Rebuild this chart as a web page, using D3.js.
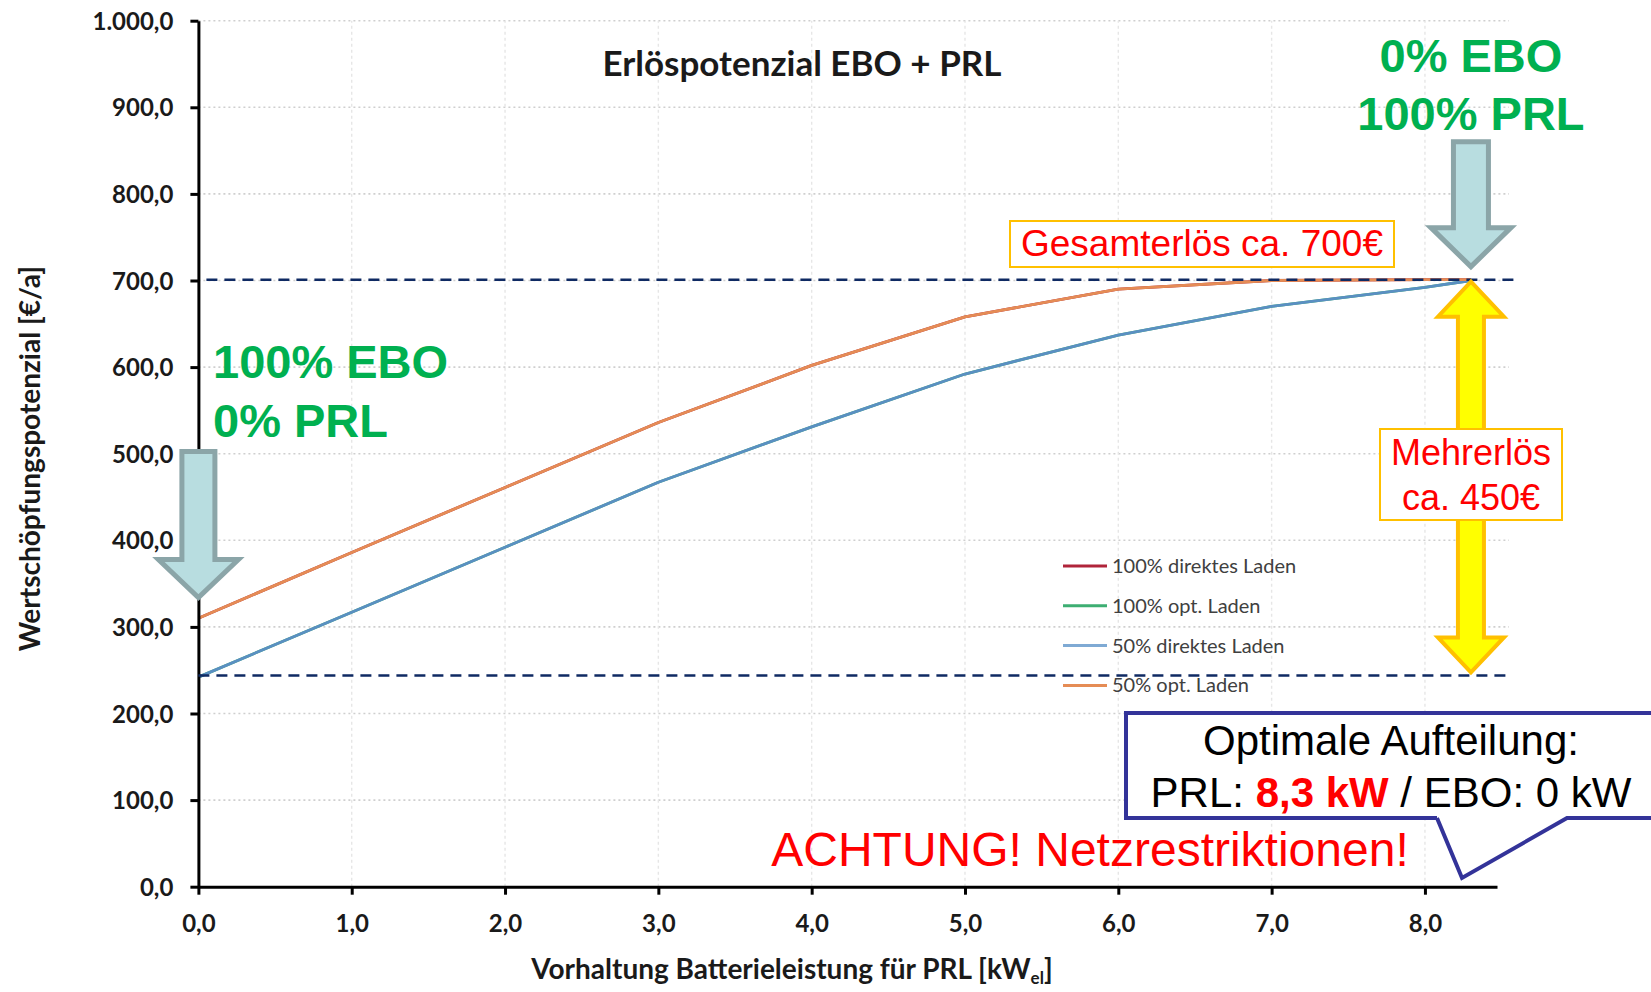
<!DOCTYPE html>
<html>
<head>
<meta charset="utf-8">
<script src="https://cdn.jsdelivr.net/npm/d3@7/dist/d3.min.js"></script>
<style>
  html, body { margin: 0; padding: 0; background: #ffffff; }
  svg { display: block; }
</style>
</head>
<body>
<svg id="chart" width="1651" height="992"></svg>
<script>
// ---- data ----
const prlPower = [0, 1, 2, 3, 4, 5, 6, 7, 8, 8.3];              // kW_el reserved for PRL
const direkt100 = [310, 386, 461, 536, 602, 658, 690, 700, 701, 701];
const opt100    = [242, 317, 392, 467, 531, 592, 637, 670, 692, 700];
const direkt50  = [242, 317, 392, 467, 531, 592, 637, 670, 692, 700];
const opt50     = [310, 386, 461, 536, 602, 658, 690, 700, 701, 701];
const seriesNames = ["100% direktes Laden", "100% opt. Laden", "50% direktes Laden", "50% opt. Laden"];
const seriesColors = ["#B0243A", "#3DAE72", "#5A8FC2", "#E58C55"];
const yTicks = [0, 100, 200, 300, 400, 500, 600, 700, 800, 900, 1000];
const xTicks = [0, 1, 2, 3, 4, 5, 6, 7, 8];
const totalRevenue = 701;   // Gesamterlös level
const baseRevenue = 244;    // level at 0 kW PRL
const optimumKW = 8.3;

const svg = d3.select("#chart");
svg.append("rect").attr("width", 1651).attr("height", 992).attr("fill", "#fff");

const x = d3.scaleLinear().domain([0, 8.47]).range([198.4, 1497]);
const y = d3.scaleLinear().domain([0, 1000]).range([886.7, 20.7]);

const de = d3.formatLocale({ decimal: ",", thousands: ".", grouping: [3], currency: ["", "€"] });
const fmt = de.format(",.1f");
const uiFont = "Lato, 'Open Sans', sans-serif";
const arial = "'Liberation Sans', Arial, sans-serif";

// ---- grid ----
const grid = svg.append("g");
grid.selectAll("line.h").data(yTicks.filter(d => d > 0)).join("line")
  .attr("x1", x(0)).attr("x2", x(8.47) + 12)
  .attr("y1", d => y(d)).attr("y2", d => y(d))
  .attr("stroke", "#cfcfcf").attr("stroke-width", 1.6).attr("stroke-dasharray", "2,3");
grid.selectAll("line.v").data(xTicks.filter(d => d > 0)).join("line")
  .attr("x1", d => x(d)).attr("x2", d => x(d))
  .attr("y1", y(0)).attr("y2", y(1000))
  .attr("stroke", "#e6e6e6").attr("stroke-width", 1.4).attr("stroke-dasharray", "3,3");

// ---- title ----
svg.append("text").attr("x", 802).attr("y", 76).attr("text-anchor", "middle")
  .attr("font-family", uiFont).attr("font-weight", "bold")
  .attr("font-size", 35).attr("fill", "#1a1a1a").text("Erlöspotenzial EBO + PRL");

// ---- series ----
const line = d3.line().x((d, i) => x(prlPower[i])).y(d => y(d));
const allSeries = [direkt100, opt100, direkt50, opt50];
svg.append("g").selectAll("path").data(allSeries).join("path")
  .attr("d", d => line(d)).attr("fill", "none")
  .attr("stroke", (d, i) => seriesColors[i]).attr("stroke-width", 2.8)
  .attr("stroke-linejoin", "round");

// ---- axes ----
const axisFont = g => g.selectAll("text")
  .attr("font-family", uiFont).attr("font-weight", "bold")
  .attr("font-size", 24).attr("fill", "#1a1a1a");

const yAxis = svg.append("g").attr("transform", `translate(${x(0)},0)`)
  .call(d3.axisLeft(y).tickValues(yTicks).tickFormat(fmt).tickSize(8).tickSizeOuter(0).tickPadding(17));
yAxis.call(axisFont);
yAxis.select(".domain").attr("stroke", "#000").attr("stroke-width", 3);
yAxis.selectAll(".tick line").attr("stroke", "#000").attr("stroke-width", 3);
yAxis.selectAll(".tick text").attr("dy", "0.36em");

const xAxis = svg.append("g").attr("transform", `translate(0,${y(0)})`)
  .call(d3.axisBottom(x).tickValues(xTicks).tickFormat(fmt).tickSize(8).tickSizeOuter(0).tickPadding(20));
xAxis.call(axisFont);
xAxis.select(".domain").attr("stroke", "#000").attr("stroke-width", 3);
xAxis.selectAll(".tick line").attr("stroke", "#000").attr("stroke-width", 3);

// axis titles
svg.append("text")
  .attr("transform", `translate(40,${(y(0) + y(1000)) / 2 + 5}) rotate(-90)`)
  .attr("text-anchor", "middle")
  .attr("font-family", uiFont).attr("font-weight", "bold")
  .attr("font-size", 28).attr("fill", "#1a1a1a")
  .text("Wertschöpfungspotenzial [€/a]");

const xt = svg.append("text").attr("x", 792).attr("y", 979).attr("text-anchor", "middle")
  .attr("font-family", uiFont).attr("font-weight", "bold")
  .attr("font-size", 28).attr("fill", "#1a1a1a");
xt.append("tspan").text("Vorhaltung Batterieleistung für PRL [kW");
xt.append("tspan").attr("font-size", 17).attr("dy", 5).text("el");
xt.append("tspan").attr("dy", -5).text("]");

// ---- legend ----
const legend = svg.append("g").attr("transform", "translate(1063,566)");
const li = legend.selectAll("g").data(seriesNames).join("g")
  .attr("transform", (d, i) => `translate(0,${i * 39.8})`);
li.append("line").attr("x1", 0).attr("x2", 44).attr("y1", 0).attr("y2", 0)
  .attr("stroke", (d, i) => i === 2 ? "#7FAAD4" : seriesColors[i]).attr("stroke-width", 3);
li.append("text").attr("x", 49).attr("y", 0).attr("dy", "0.35em")
  .attr("font-family", uiFont).attr("font-size", 20)
  .attr("fill", "#404040").text(d => d);

// ---- reference levels ----
svg.append("line").attr("x1", x(0) + 8).attr("x2", 1516)
  .attr("y1", y(totalRevenue)).attr("y2", y(totalRevenue))
  .attr("stroke", "#0F2A63").attr("stroke-width", 2.5).attr("stroke-dasharray", "11,7");
svg.append("line").attr("x1", x(0)).attr("x2", 1508)
  .attr("y1", y(baseRevenue)).attr("y2", y(baseRevenue))
  .attr("stroke", "#0F2A63").attr("stroke-width", 2.5).attr("stroke-dasharray", "11,7");

// ---- block arrows ----
function downArrow(tx, ty, len, shaftHalf, headHalf, headLen) {
  return d3.line()([
    [tx - shaftHalf, ty - len], [tx + shaftHalf, ty - len], [tx + shaftHalf, ty - headLen],
    [tx + headHalf, ty - headLen], [tx, ty], [tx - headHalf, ty - headLen],
    [tx - shaftHalf, ty - headLen]
  ]) + "Z";
}
function doubleArrow(cx, yTop, yBot, shaftHalf, headHalf, headLen) {
  return d3.line()([
    [cx, yTop], [cx + headHalf, yTop + headLen], [cx + shaftHalf, yTop + headLen],
    [cx + shaftHalf, yBot - headLen], [cx + headHalf, yBot - headLen], [cx, yBot],
    [cx - headHalf, yBot - headLen], [cx - shaftHalf, yBot - headLen],
    [cx - shaftHalf, yTop + headLen], [cx - headHalf, yTop + headLen]
  ]) + "Z";
}

svg.append("path").attr("d", downArrow(x(0), y(334), 146, 16.5, 40, 38))
  .attr("fill", "#B8DDE0").attr("stroke", "#8BA5A8").attr("stroke-width", 5)
  .attr("stroke-linejoin", "miter");
svg.append("path").attr("d", downArrow(x(optimumKW), y(716), 125, 17.5, 40, 39))
  .attr("fill", "#B8DDE0").attr("stroke", "#8BA5A8").attr("stroke-width", 5)
  .attr("stroke-linejoin", "miter");
svg.append("path").attr("d", doubleArrow(x(optimumKW), y(totalRevenue) + 2, y(baseRevenue) - 3, 13, 33, 35))
  .attr("fill", "#FFFF00").attr("stroke", "#FFC000").attr("stroke-width", 4)
  .attr("stroke-linejoin", "miter");

// ---- annotations ----
svg.append("text").attr("x", 213).attr("y", 378)
  .attr("font-family", arial).attr("font-weight", "bold").attr("font-size", 47)
  .attr("fill", "#00B050").text("100% EBO");
svg.append("text").attr("x", 213).attr("y", 437)
  .attr("font-family", arial).attr("font-weight", "bold").attr("font-size", 47)
  .attr("fill", "#00B050").text("0% PRL");

svg.append("text").attr("x", x(optimumKW)).attr("y", 72).attr("text-anchor", "middle")
  .attr("font-family", arial).attr("font-weight", "bold").attr("font-size", 47)
  .attr("fill", "#00B050").text("0% EBO");
svg.append("text").attr("x", x(optimumKW)).attr("y", 130).attr("text-anchor", "middle")
  .attr("font-family", arial).attr("font-weight", "bold").attr("font-size", 47)
  .attr("fill", "#00B050").text("100% PRL");

// Gesamterlös label
svg.append("rect").attr("x", 1010).attr("y", 221).attr("width", 384).attr("height", 46)
  .attr("fill", "#fff").attr("stroke", "#FFC000").attr("stroke-width", 2);
svg.append("text").attr("x", 1202).attr("y", 256).attr("text-anchor", "middle")
  .attr("font-family", arial).attr("font-size", 37).attr("fill", "#FF0000")
  .text("Gesamterlös ca. 700€");

// Mehrerlös label
svg.append("rect").attr("x", 1380).attr("y", 429).attr("width", 182).attr("height", 91)
  .attr("fill", "#fff").attr("stroke", "#FFC000").attr("stroke-width", 2);
svg.append("text").attr("x", 1471).attr("y", 465).attr("text-anchor", "middle")
  .attr("font-family", arial).attr("font-size", 36).attr("fill", "#FF0000").text("Mehrerlös");
svg.append("text").attr("x", 1471).attr("y", 510).attr("text-anchor", "middle")
  .attr("font-family", arial).attr("font-size", 36).attr("fill", "#FF0000").text("ca. 450€");

// warning
svg.append("text").attr("x", 1090).attr("y", 866).attr("text-anchor", "middle")
  .attr("font-family", arial).attr("font-size", 48).attr("fill", "#FF0000")
  .text("ACHTUNG! Netzrestriktionen!");

// callout with pointer
svg.append("path")
  .attr("d", d3.line()([[1437, 818], [1126, 818], [1126, 713], [1680, 713], [1680, 818],
                        [1567, 818], [1462, 878], [1437, 818]]))
  .attr("fill", "#fff").attr("stroke", "#333399").attr("stroke-width", 4)
  .attr("stroke-linejoin", "miter");
svg.append("text").attr("x", 1391).attr("y", 755).attr("text-anchor", "middle")
  .attr("font-family", arial).attr("font-size", 42).attr("fill", "#000")
  .text("Optimale Aufteilung:");
const cl = svg.append("text").attr("x", 1391).attr("y", 807).attr("text-anchor", "middle")
  .attr("font-family", arial).attr("font-size", 42).attr("fill", "#000");
cl.append("tspan").text("PRL: ");
cl.append("tspan").attr("font-weight", "bold").attr("fill", "#FF0000")
  .text(de.format(".1f")(optimumKW) + " kW");
cl.append("tspan").text(" / EBO: 0 kW");
</script>
</body>
</html>
